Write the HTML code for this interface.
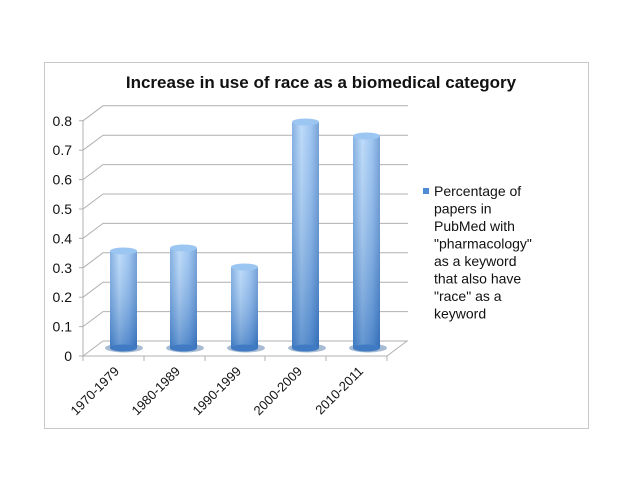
<!DOCTYPE html>
<html><head><style>body{margin:0;background:#fff}svg{display:block}</style></head><body>
<svg width="640" height="495" xmlns="http://www.w3.org/2000/svg" font-family="Liberation Sans, sans-serif">
<defs>
<linearGradient id="h" x1="0" x2="1" y1="0" y2="0">
<stop offset="0" stop-color="#5d97d8"/><stop offset="0.35" stop-color="#a9cff6"/><stop offset="0.7" stop-color="#7fb2ec"/><stop offset="1" stop-color="#4a82c8"/></linearGradient>
<linearGradient id="v" x1="0" x2="0" y1="0" y2="1">
<stop offset="0" stop-color="#fff" stop-opacity="0.25"/><stop offset="1" stop-color="#1d5aa8" stop-opacity="0.5"/></linearGradient>
</defs>
<rect x="44.5" y="62.5" width="544" height="366" fill="#fff" stroke="#c8c8c8"/>
<text x="321" y="88" text-anchor="middle" font-size="17" font-weight="bold" fill="#111">Increase in use of race as a biomedical category</text>
<g stroke="#b0b0b0" fill="none" stroke-width="1">
<path d="M83,356 L103,341 L408,341 M83,326.6 L103,311.6 L408,311.6 M83,297.2 L103,282.2 L408,282.2 M83,267.8 L103,252.8 L408,252.8 M83,238.4 L103,223.4 L408,223.4 M83,209 L103,194 L408,194 M83,179.6 L103,164.6 L408,164.6 M83,150.2 L103,135.2 L408,135.2 M83,120.8 L103,105.8 L408,105.8"/>
<path d="M83,121 L83,356 L387,356 L407,341"/>
<path d="M79,356h4M79,326.6h4M79,297.2h4M79,267.8h4M79,238.4h4M79,209h4M79,179.6h4M79,150.2h4M79,120.8h4"/>
<path d="M83,356v5M144,356v5M205,356v5M265,356v5M326,356v5M387,356v5"/>
</g>
<g font-size="14" fill="#111" text-anchor="end">
<text x="72" y="361">0</text><text x="72" y="331.6">0.1</text><text x="72" y="302.2">0.2</text><text x="72" y="272.8">0.3</text><text x="72" y="243.4">0.4</text><text x="72" y="214">0.5</text><text x="72" y="184.6">0.6</text><text x="72" y="155.2">0.7</text><text x="72" y="125.8">0.8</text>
</g>
<g>
<ellipse cx="124" cy="348" rx="19" ry="4.5" fill="#6d8fb8" opacity="0.6"/>
<rect x="110" y="251" width="27" height="97" fill="url(#h)"/><rect x="110" y="251" width="27" height="97" fill="url(#v)"/>
<ellipse cx="123.5" cy="348" rx="13.5" ry="3.5" fill="#3f7ac2"/><ellipse cx="123.5" cy="251" rx="13.5" ry="3.5" fill="#9cc6f2"/>
<ellipse cx="185" cy="348" rx="19" ry="4.5" fill="#6d8fb8" opacity="0.6"/>
<rect x="170" y="248" width="27" height="100" fill="url(#h)"/><rect x="170" y="248" width="27" height="100" fill="url(#v)"/>
<ellipse cx="183.5" cy="348" rx="13.5" ry="3.5" fill="#3f7ac2"/><ellipse cx="183.5" cy="248" rx="13.5" ry="3.5" fill="#9cc6f2"/>
<ellipse cx="246" cy="348" rx="19" ry="4.5" fill="#6d8fb8" opacity="0.6"/>
<rect x="231" y="267" width="27" height="81" fill="url(#h)"/><rect x="231" y="267" width="27" height="81" fill="url(#v)"/>
<ellipse cx="244.5" cy="348" rx="13.5" ry="3.5" fill="#3f7ac2"/><ellipse cx="244.5" cy="267" rx="13.5" ry="3.5" fill="#9cc6f2"/>
<ellipse cx="307" cy="348" rx="19" ry="4.5" fill="#6d8fb8" opacity="0.6"/>
<rect x="292" y="122" width="27" height="226" fill="url(#h)"/><rect x="292" y="122" width="27" height="226" fill="url(#v)"/>
<ellipse cx="305.5" cy="348" rx="13.5" ry="3.5" fill="#3f7ac2"/><ellipse cx="305.5" cy="122" rx="13.5" ry="3.5" fill="#9cc6f2"/>
<ellipse cx="368" cy="348" rx="19" ry="4.5" fill="#6d8fb8" opacity="0.6"/>
<rect x="353" y="136" width="27" height="212" fill="url(#h)"/><rect x="353" y="136" width="27" height="212" fill="url(#v)"/>
<ellipse cx="366.5" cy="348" rx="13.5" ry="3.5" fill="#3f7ac2"/><ellipse cx="366.5" cy="136" rx="13.5" ry="3.5" fill="#9cc6f2"/>
</g>
<g font-size="13" fill="#111" text-anchor="end">
<text transform="translate(120,372) rotate(-45)">1970-1979</text>
<text transform="translate(181,372) rotate(-45)">1980-1989</text>
<text transform="translate(242,372) rotate(-45)">1990-1999</text>
<text transform="translate(303,372) rotate(-45)">2000-2009</text>
<text transform="translate(364,372) rotate(-45)">2010-2011</text>
</g>
<rect x="423" y="188" width="6" height="6" fill="#4f8ad4"/>
<g font-size="14" fill="#111">
<text x="434" y="196">Percentage of</text>
<text x="434" y="213.5">papers in</text>
<text x="434" y="231">PubMed with</text>
<text x="434" y="248.5">"pharmacology"</text>
<text x="434" y="266">as a keyword</text>
<text x="434" y="283.5">that also have</text>
<text x="434" y="301">"race" as a</text>
<text x="434" y="318.5">keyword</text>
</g>
</svg>
</body></html>
